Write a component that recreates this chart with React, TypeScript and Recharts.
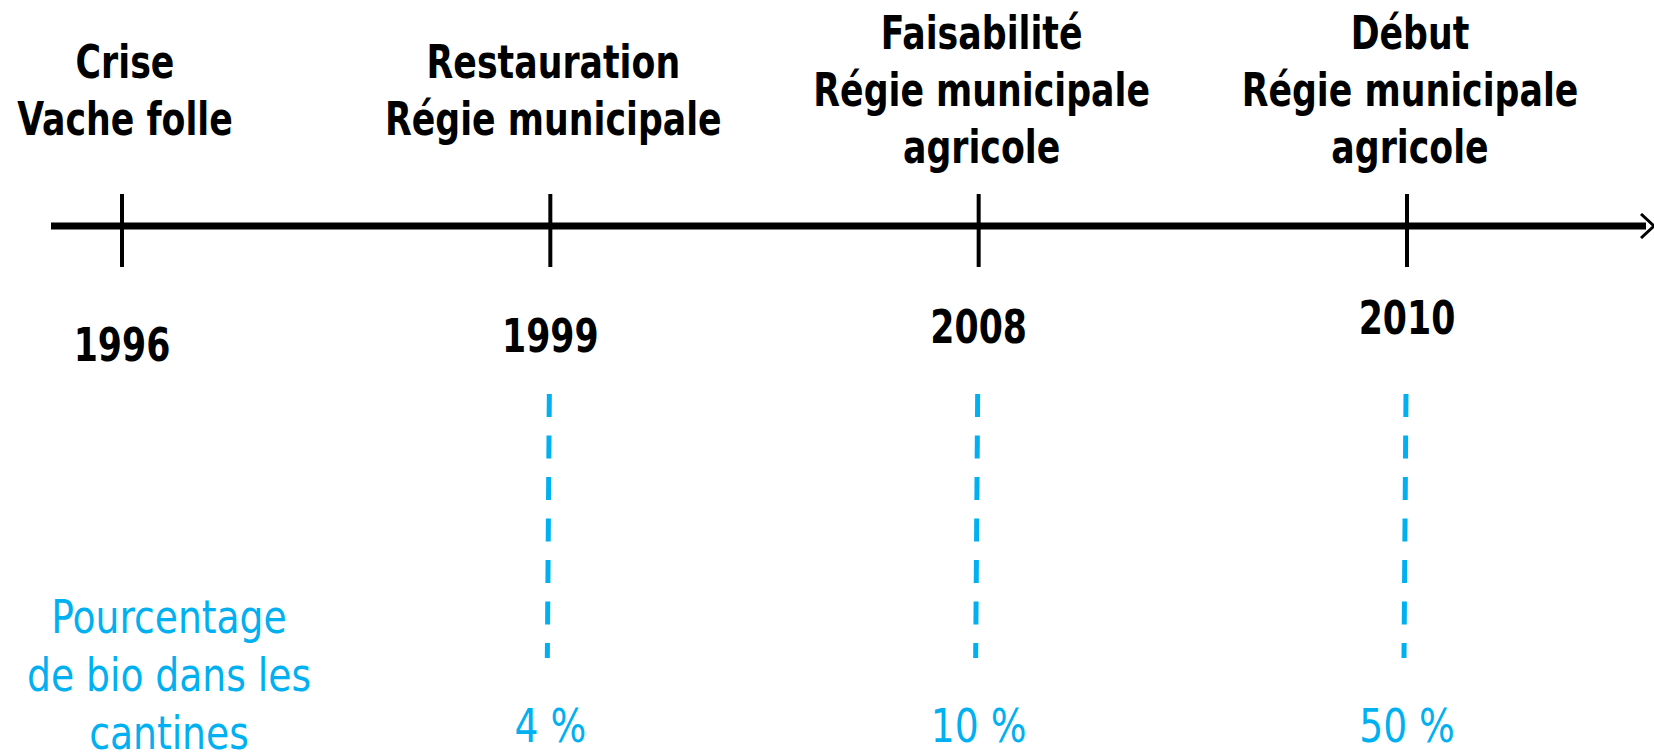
import { ComposedChart, XAxis, YAxis } from "recharts";

const years = ["1996", "1999", "2008", "2010"];
const events = [
  ["Crise", "Vache folle"],
  ["Restauration", "Régie municipale"],
  ["Faisabilité", "Régie municipale", "agricole"],
  ["Début", "Régie municipale", "agricole"],
];
const bioShare: (number | null)[] = [null, 4, 10, 50];
const rowLabel = ["Pourcentage", "de bio dans les", "cantines"];

const data = years.map((year, i) => ({ year, bio: bioShare[i] }));

const FONT = "'DejaVu Sans Condensed', 'DejaVu Sans', sans-serif";
const BLUE = "#00B0F0";
const LINE_H = 57;

// narrow text to get closer to the slide's Calibri
const Txt = ({ x, y, bold, fill = "#000", children }: any) => (
  <text
    transform={`translate(${x},${y}) scale(${bold ? 0.84 : 0.91},1)`}
    textAnchor="middle"
    fontFamily={FONT}
    fontWeight={bold ? "bold" : "normal"}
    fontSize={46}
    fill={fill}
  >
    {children}
  </text>
);

const TimelineTick = (props: any) => {
  const { x, y, payload } = props;
  const i = years.indexOf(payload.value);
  const lines = events[i] || [];
  const bio = bioShare[i];
  const headerMid = y - 120;
  const first = headerMid - ((lines.length - 1) / 2) * LINE_H;
  // the slide is slightly skewed: year labels drift up to the right
  const yearY = y + 136 - 0.021 * (x - 51);
  return (
    <g>
      <line x1={x} x2={x} y1={y - 32} y2={y + 41} stroke="#000" strokeWidth={4} />
      {lines.map((t, k) => (
        <Txt key={k} x={x + 3} y={first + k * LINE_H} bold>
          {t}
        </Txt>
      ))}
      <Txt x={x} y={yearY} bold>
        {payload.value}
      </Txt>
      {bio != null && (
        <g>
          <line
            x1={x - 1}
            x2={x - 3}
            y1={y + 168}
            y2={y + 432}
            stroke={BLUE}
            strokeWidth={5}
            strokeDasharray="23 18.5"
          />
          <Txt x={x} y={y + 516} fill={BLUE}>
            {`${bio} %`}
          </Txt>
        </g>
      )}
    </g>
  );
};

export default function App() {
  return (
    <div style={{ width: 1654, height: 756, background: "#fff" }}>
      <style>{"body{margin:0}"}</style>
      <ComposedChart width={1654} height={756} data={data} margin={{ top: 0, right: 8, bottom: 0, left: 51 }}>
        <defs>
          <marker
            id="arrowHead"
            viewBox="0 0 16 26"
            refX={6}
            refY={13}
            markerWidth={16}
            markerHeight={26}
            markerUnits="userSpaceOnUse"
            orient="auto"
          >
            <path d="M1,1 L14,13 L1,25" fill="none" stroke="#000" strokeWidth={3} />
          </marker>
        </defs>
        <YAxis hide domain={[0, 100]} />
        <XAxis
          dataKey="year"
          type="category"
          scale="point"
          padding={{ left: 71, right: 239 }}
          height={530}
          tickSize={0}
          tickMargin={0}
          tickLine={false}
          axisLine={{ stroke: "#000", strokeWidth: 7, markerEnd: "url(#arrowHead)" }}
          tick={<TimelineTick />}
          interval={0}
        />
        {rowLabel.map((t, k) => (
          <Txt key={k} x={169} y={633 + k * 58} fill={BLUE}>
            {t}
          </Txt>
        ))}
      </ComposedChart>
    </div>
  );
}
